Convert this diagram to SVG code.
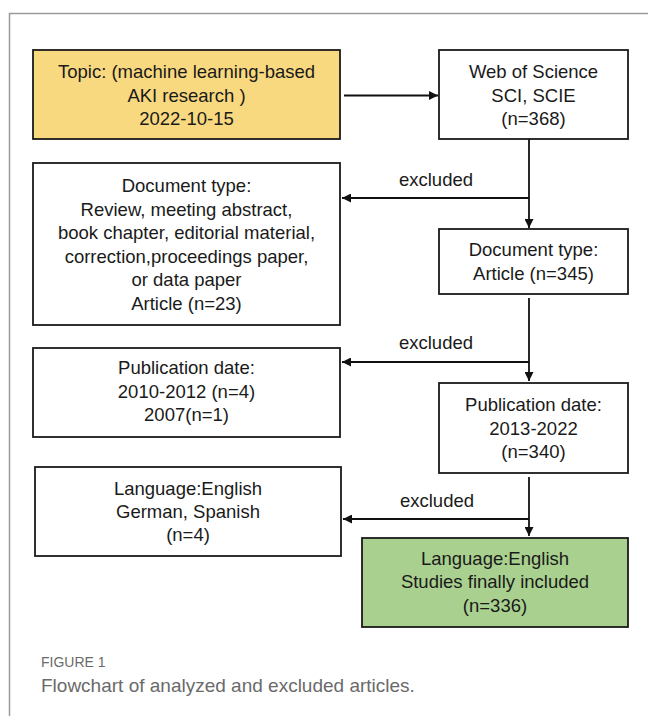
<svg xmlns="http://www.w3.org/2000/svg" width="648" height="716" viewBox="0 0 648 716">
<defs>
<style>
.box{fill:#fff;stroke:#1a1a1a;stroke-width:1.8}
.t{font-family:"Liberation Sans",Arial,sans-serif;font-size:18.5px;fill:#1a1a1a;text-anchor:middle}
.ln{stroke:#111;stroke-width:1.8;fill:none}
.cap1{font-family:"Liberation Sans",Arial,sans-serif;font-size:14px;fill:#6a6a6a}
.cap2{font-family:"Liberation Sans",Arial,sans-serif;font-size:19px;fill:#6a6a6a}
</style>
<marker id="ah" viewBox="0 0 10 10" refX="10" refY="5" markerWidth="9" markerHeight="9" markerUnits="userSpaceOnUse" orient="auto">
<path d="M0,0 L10,5 L0,10 z" fill="#111"/>
</marker>
</defs>
<rect width="648" height="716" fill="#fff"/>
<path d="M9.5,716 V13.5 H648" fill="none" stroke="#9a9a9a" stroke-width="1.5"/>

<g id="topic">
<rect class="box" x="33" y="50" width="307" height="89" style="fill:#F9D97F"/>
<text class="t" x="186.5" y="78">Topic: (machine learning-based</text>
<text class="t" x="186.5" y="102">AKI research )</text>
<text class="t" x="186.5" y="125">2022-10-15</text>
</g>
<g id="wos">
<rect class="box" x="439" y="50" width="189" height="89"/>
<text class="t" x="533.5" y="78">Web of Science</text>
<text class="t" x="533.5" y="102">SCI, SCIE</text>
<text class="t" x="533.5" y="125">(n=368)</text>
</g>
<g id="doc-excluded">
<rect class="box" x="33" y="163" width="307" height="162"/>
<text class="t" x="186.5" y="192">Document type:</text>
<text class="t" x="186.5" y="216">Review, meeting abstract,</text>
<text class="t" x="186.5" y="239">book chapter, editorial material,</text>
<text class="t" x="186.5" y="263">correction,proceedings paper,</text>
<text class="t" x="186.5" y="286">or data paper</text>
<text class="t" x="186.5" y="310">Article (n=23)</text>
</g>
<g id="doc-article">
<rect class="box" x="439" y="229" width="189" height="65"/>
<text class="t" x="533.5" y="256">Document type:</text>
<text class="t" x="533.5" y="280">Article (n=345)</text>
</g>
<g id="pub-excluded">
<rect class="box" x="33" y="348" width="307" height="89"/>
<text class="t" x="186.5" y="374">Publication date:</text>
<text class="t" x="186.5" y="398">2010-2012 (n=4)</text>
<text class="t" x="186.5" y="421">2007(n=1)</text>
</g>
<g id="pub-included">
<rect class="box" x="439" y="383" width="189" height="90"/>
<text class="t" x="533.5" y="411">Publication date:</text>
<text class="t" x="533.5" y="435">2013-2022</text>
<text class="t" x="533.5" y="458">(n=340)</text>
</g>
<g id="lang-excluded">
<rect class="box" x="35" y="467" width="306" height="89"/>
<text class="t" x="188" y="495">Language:English</text>
<text class="t" x="188" y="518">German, Spanish</text>
<text class="t" x="188" y="541">(n=4)</text>
</g>
<g id="final">
<rect class="box" x="362" y="538" width="266" height="89" style="fill:#A9D08E"/>
<text class="t" x="495" y="565">Language:English</text>
<text class="t" x="495" y="588">Studies finally included</text>
<text class="t" x="495" y="612">(n=336)</text>
</g>

<g id="connectors">
<line class="ln" x1="344" y1="95.5" x2="438" y2="95.5" marker-end="url(#ah)"/>
<line class="ln" x1="529" y1="139" x2="529" y2="228" marker-end="url(#ah)"/>
<line class="ln" x1="529" y1="198" x2="342" y2="198" marker-end="url(#ah)"/>
<line class="ln" x1="529" y1="298" x2="529" y2="381" marker-end="url(#ah)"/>
<line class="ln" x1="529" y1="362" x2="342" y2="362" marker-end="url(#ah)"/>
<line class="ln" x1="529" y1="477" x2="529" y2="536" marker-end="url(#ah)"/>
<line class="ln" x1="529" y1="519" x2="343" y2="519" marker-end="url(#ah)"/>
<text class="t" x="436" y="186">excluded</text>
<text class="t" x="436" y="349">excluded</text>
<text class="t" x="437" y="507">excluded</text>
</g>

<text class="cap1" x="41" y="667">FIGURE 1</text>
<text class="cap2" x="41" y="692">Flowchart of analyzed and excluded articles.</text>
</svg>
